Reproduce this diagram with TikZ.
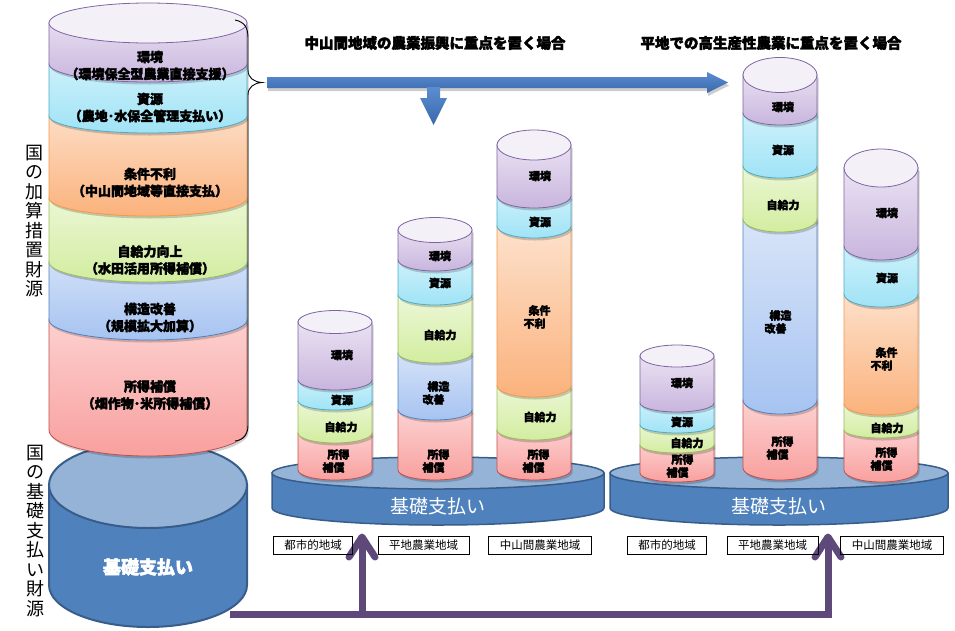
\documentclass[tikz,border=0pt]{standalone}
\usepackage{fontspec}
\setmainfont{Noto Sans CJK JP}
\newfontfamily\heavyjp{Noto Sans CJK JP Black}[FakeBold=2.5]
\usetikzlibrary{arrows.meta}

\definecolor{envL}{HTML}{EFE9F6}
\definecolor{envD}{HTML}{C8B5DD}
\definecolor{envO}{HTML}{8064A2}
\definecolor{envT}{HTML}{F3F0F8}
\definecolor{resL}{HTML}{D8F4FB}
\definecolor{resD}{HTML}{9FE3F6}
\definecolor{resO}{HTML}{4BACC6}
\definecolor{condL}{HTML}{FDE4D1}
\definecolor{condD}{HTML}{FBB27C}
\definecolor{condO}{HTML}{F79646}
\definecolor{selfL}{HTML}{F1F9E1}
\definecolor{selfD}{HTML}{D2ED9F}
\definecolor{selfO}{HTML}{9BBB59}
\definecolor{strL}{HTML}{DCE7F9}
\definecolor{strD}{HTML}{A6C3F1}
\definecolor{strO}{HTML}{4F81BD}
\definecolor{incL}{HTML}{FDD9D9}
\definecolor{incD}{HTML}{F8A09E}
\definecolor{incO}{HTML}{C0504D}
\definecolor{baseD}{HTML}{4F81BD}
\definecolor{baseT}{HTML}{95B3D7}
\definecolor{baseO}{HTML}{385D8A}
\definecolor{arrL}{HTML}{5A8DD0}
\definecolor{arrD}{HTML}{3A69AC}
\definecolor{purp}{HTML}{5F497A}

% cx, rx, ry, top, bottom, kind
\newcommand{\cylseg}[6]{%
  \fill[black, opacity=0.18, shift={(1.5,-2.5)}] ({#1-#2},-#4) -- ({#1-#2},-#5) arc[start angle=180, end angle=360, x radius=#2, y radius=#3] -- ({#1+#2},-#4) -- cycle;
  \shadedraw[top color=#6L, bottom color=#6D, draw=#6O, line width=0.8pt] ({#1-#2},-#4) -- ({#1-#2},-#5) arc[start angle=180, end angle=360, x radius=#2, y radius=#3] -- ({#1+#2},-#4) arc[start angle=0, end angle=180, x radius=#2, y radius=#3] -- cycle;
}
% cx, rx, ry, y
\newcommand{\cyltop}[4]{%
  \filldraw[fill=envT, draw=envO, line width=0.8pt] (#1,-#4) ellipse[x radius=#2, y radius=#3];
}
% cx, rx
\newcommand{\platform}[2]{%
  \filldraw[fill=baseD, draw=baseO, line width=1.5pt] ({#1-#2},-473) -- ({#1-#2},-508) arc[start angle=180, end angle=360, x radius=#2, y radius=17] -- ({#1+#2},-473) -- cycle;
  \filldraw[fill=baseT, draw=baseO, line width=1.5pt] (#1,-473) ellipse[x radius=#2, y radius=16];
}

\begin{document}
\begin{tikzpicture}[x=1pt, y=1pt,
  bigtxt/.style={align=center, font=\heavyjp\fontsize{13}{17}\selectfont, inner sep=0pt},
  segtxt/.style={align=left, font=\heavyjp\fontsize{11}{13}\selectfont, inner sep=0pt},
  vlabel/.style={align=center, font=\fontsize{18}{19.5}\selectfont, inner sep=0pt},
  title/.style={font=\heavyjp\fontsize{14.5}{17}\selectfont, inner sep=0pt},
  basetxt/.style={text=white, font=\fontsize{19}{21}\selectfont, inner sep=0pt},
  areabox/.style={draw, line width=0.8pt, inner xsep=11pt, inner ysep=0pt, minimum height=18pt, font=\fontsize{11.5}{13}\selectfont},
  flow/.style={purp, line width=7pt},
  chevron/.style={purp, line width=7pt, line cap=round, line join=round}]
  \useasboundingbox (0,0) rectangle (955,-630);

  % purple flow
  \coordinate (pstart) at (230,-614);
  \coordinate (pcornL) at (362,-614);
  \coordinate (pcornR) at (828,-614);
  \coordinate (ptipL) at (362,-537);
  \coordinate (ptipR) at (828,-537);
  \draw[flow] (pstart) -- (pcornR) -- (ptipR);
  \draw[flow] (pcornL) -- (ptipL);
  \draw[chevron] ([shift={(-13,-20)}]ptipL) -- (ptipL) -- ([shift={(13,-20)}]ptipL);
  \draw[chevron] ([shift={(-13,-20)}]ptipR) -- (ptipR) -- ([shift={(13,-20)}]ptipR);

  % left base cylinder
  \filldraw[fill=baseD, draw=baseO, line width=2pt] (49,-485) -- (49,-585) arc[start angle=180, end angle=360, x radius=99, y radius=42] -- (247,-485) -- cycle;
  \filldraw[fill=baseT, draw=baseO, line width=2pt] (148,-485) ellipse[x radius=99, y radius=43];
  \node[text=white, font=\heavyjp\fontsize{18}{20}\selectfont] (kiso) at (148,-567) {基礎支払い};

  % left stack
  \cylseg{148}{99}{26}{320}{430}{inc}
  \cylseg{148}{99}{20}{262}{320}{str}
  \cylseg{148}{99}{20}{198}{262}{self}
  \cylseg{148}{99}{18}{116}{198}{cond}
  \cylseg{148}{99}{17}{64}{116}{res}
  \cylseg{148}{99}{18}{23}{64}{env}
  \cyltop{148}{99}{20}{23}
  \node[bigtxt] (tEnv) at (150,-65.5) {環境\\（環境保全型農業直接支援）};
  \node[bigtxt] (tRes) at (150,-107.5) {資源\\（農地･水保全管理支払い）};
  \node[bigtxt] (tCond) at (150,-182.5) {条件不利\\（中山間地域等直接支払）};
  \node[bigtxt] (tSelf) at (150,-260) {自給力向上\\（水田活用所得補償）};
  \node[bigtxt] (tStr) at (150,-317.5) {構造改善\\（規模拡大加算）};
  \node[bigtxt] (tInc) at (150,-395) {所得補償\\（畑作物･米所得補償）};

  \node[vlabel] (vAdd) at (34,-221) {国\\の\\加\\算\\措\\置\\財\\源};
  \node[vlabel] (vBase) at (36,-531) {国\\の\\基\\礎\\支\\払\\い\\財\\源};

  % brace
  \draw[line width=0.9pt] (235,-20) .. controls (245,-22) and (248,-28) .. (248,-38) -- (248,-70) .. controls (248,-78) and (254,-82) .. (262,-82.5) .. controls (254,-83) and (248,-87) .. (248,-95) -- (248,-425) .. controls (248,-434) and (244,-440) .. (235,-441);

  % blue arrows
  \fill[black, opacity=0.2, shift={(1,-3)}] (267,-77) -- (707,-77) -- (707,-72) -- (728,-82.5) -- (707,-93) -- (707,-88) -- (267,-88) -- cycle;
  \shade[top color=arrL, bottom color=arrD] (267,-77) -- (707,-77) -- (707,-72) -- (728,-82.5) -- (707,-93) -- (707,-88) -- (267,-88) -- cycle;
  \shade[top color=arrL, bottom color=arrD] (427,-87) -- (427,-98) -- (420,-98) -- (433.5,-125) -- (447,-98) -- (440,-98) -- (440,-87) -- cycle;

  \node[title] (head1) at (435,-43) {中山間地域の農業振興に重点を置く場合};
  \node[title] (head2) at (771,-43) {平地での高生産性農業に重点を置く場合};

  % middle group
  \platform{438}{166}
  \node[basetxt] (kiso1) at (438,-506) {基礎支払い};

  \cylseg{335}{37}{10}{433}{470}{inc}
  \cylseg{335}{37}{10}{401}{433}{self}
  \cylseg{335}{37}{9}{380}{401}{res}
  \cylseg{335}{37}{10}{322}{380}{env}
  \cyltop{335}{37}{11.5}{322}
  \node[segtxt] (a1) at (342,-355) {環境};
  \node[segtxt] (a2) at (342,-400) {資源};
  \node[segtxt] (a3) at (341,-427) {自給力};
  \node[segtxt] (a4) at (336,-461) {\hspace*{5pt}所得\\補償};

  \cylseg{435}{37}{10}{410}{470}{inc}
  \cylseg{435}{37}{10}{353}{410}{str}
  \cylseg{435}{37}{10}{295}{353}{self}
  \cylseg{435}{37}{10}{260}{295}{res}
  \cylseg{435}{37}{11}{230}{260}{env}
  \cyltop{435}{37}{12.5}{230}
  \node[segtxt] (b1) at (440,-256) {環境};
  \node[segtxt] (b2) at (440,-283) {資源};
  \node[segtxt] (b3) at (440,-335) {自給力};
  \node[segtxt] (b4) at (436,-393) {\hspace*{5pt}構造\\改善};
  \node[segtxt] (b5) at (436,-461) {\hspace*{5pt}所得\\補償};

  \cylseg{534}{37}{10}{430}{470}{inc}
  \cylseg{534}{37}{10}{386}{430}{self}
  \cylseg{534}{37}{11}{226}{386}{cond}
  \cylseg{534}{37}{12}{196}{226}{res}
  \cylseg{534}{37}{12}{145}{196}{env}
  \cyltop{534}{37}{15}{145}
  \node[segtxt] (c1) at (540,-176) {環境};
  \node[segtxt] (c2) at (540,-222) {資源};
  \node[segtxt] (c3) at (537,-317) {\hspace*{5pt}条件\\不利};
  \node[segtxt] (c4) at (540,-417) {自給力};
  \node[segtxt] (c5) at (536,-461) {\hspace*{5pt}所得\\補償};

  % right group
  \platform{779}{169}
  \node[basetxt] (kiso2) at (779,-506) {基礎支払い};

  \cylseg{677}{37}{9}{445}{473}{inc}
  \cylseg{677}{37}{8}{425}{445}{self}
  \cylseg{677}{37}{8}{403}{425}{res}
  \cylseg{677}{37}{9}{356}{403}{env}
  \cyltop{677}{37}{11}{356}
  \node[segtxt] (d1) at (682,-383) {環境};
  \node[segtxt] (d2) at (682,-422) {資源};
  \node[segtxt] (d3) at (687,-443) {自給力};
  \node[segtxt] (d4) at (680,-466) {\hspace*{5pt}所得\\補償};

  \cylseg{780}{37}{12}{400}{468}{inc}
  \cylseg{780}{37}{14}{219}{400}{str}
  \cylseg{780}{37}{13}{166}{219}{self}
  \cylseg{780}{37}{12}{113}{166}{res}
  \cylseg{780}{37}{12}{75}{113}{env}
  \cyltop{780}{37}{17.5}{75}
  \node[segtxt] (e1) at (783,-107) {環境};
  \node[segtxt] (e2) at (783,-150) {資源};
  \node[segtxt] (e3) at (783,-205) {自給力};
  \node[segtxt] (e4) at (778,-322) {\hspace*{5pt}構造\\改善};
  \node[segtxt] (e5) at (780,-448) {\hspace*{5pt}所得\\補償};

  \cylseg{881}{37}{12}{430}{470}{inc}
  \cylseg{881}{37}{8}{404}{430}{self}
  \cylseg{881}{37}{11}{294}{404}{cond}
  \cylseg{881}{37}{13}{246}{294}{res}
  \cylseg{881}{37}{14}{168}{246}{env}
  \cyltop{881}{37}{19}{168}
  \node[segtxt] (f1) at (887,-213) {環境};
  \node[segtxt] (f2) at (887,-278) {資源};
  \node[segtxt] (f3) at (884,-359) {\hspace*{5pt}条件\\不利};
  \node[segtxt] (f4) at (887,-428) {自給力};
  \node[segtxt] (f5) at (884,-459) {\hspace*{5pt}所得\\補償};

  % area labels
  \node[areabox] (urb1) at (313,-545) {都市的地域};
  \node[areabox] (flat1) at (423.5,-545) {平地農業地域};
  \node[areabox] (hill1) at (540,-545) {中山間農業地域};
  \node[areabox] (urb2) at (667,-545) {都市的地域};
  \node[areabox] (flat2) at (772.5,-545) {平地農業地域};
  \node[areabox] (hill2) at (892,-545) {中山間農業地域};
\end{tikzpicture}
\end{document}
